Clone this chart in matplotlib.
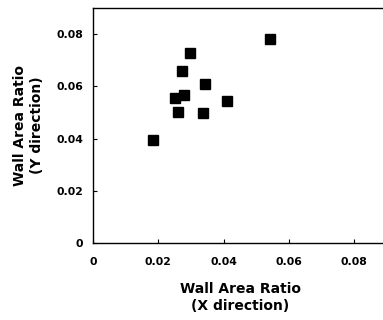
import matplotlib
matplotlib.use("Agg")
import matplotlib.pyplot as plt
from matplotlib.ticker import FuncFormatter

# wall area ratio in each direction
x_ratio = [0.0183, 0.0250, 0.0259, 0.0272, 0.0278, 0.0298, 0.0344, 0.0336, 0.0411, 0.0541]
y_ratio = [0.0393, 0.0554, 0.0503, 0.0658, 0.0565, 0.0727, 0.0610, 0.0499, 0.0543, 0.0783]

ticks = [0, 0.02, 0.04, 0.06, 0.08]


def fmt(v, pos):
    return "0" if abs(v) < 1e-9 else "%.2f" % v


fig = plt.figure(figsize=(3.83, 3.2), dpi=100)
ax = fig.add_axes([93 / 383, 1 - 243 / 320, 294 / 383, 235 / 320])

ax.plot(x_ratio, y_ratio, "s", color="black", markersize=7, linestyle="none")

ax.set_xlim(0, 0.09)
ax.set_ylim(0, 0.09)
ax.set_xticks(ticks)
ax.set_yticks(ticks)
ax.xaxis.set_major_formatter(FuncFormatter(fmt))
ax.yaxis.set_major_formatter(FuncFormatter(fmt))
ax.tick_params(direction="in", length=3, width=0.8, labelsize=7.8)
ax.tick_params(axis="x", pad=10)
ax.tick_params(axis="y", pad=7)
for lab in ax.get_xticklabels() + ax.get_yticklabels():
    lab.set_fontweight("bold")
for s in ax.spines.values():
    s.set_linewidth(1.0)
ax.spines["right"].set_visible(False)

ax.set_xlabel("Wall Area Ratio\n(X direction)", fontsize=10, fontweight="bold",
              labelpad=11, linespacing=1.25)
ax.set_ylabel("Wall Area Ratio\n(Y direction)", fontsize=10, fontweight="bold",
              labelpad=9, linespacing=1.25)

fig.savefig("out.png", dpi=100)
